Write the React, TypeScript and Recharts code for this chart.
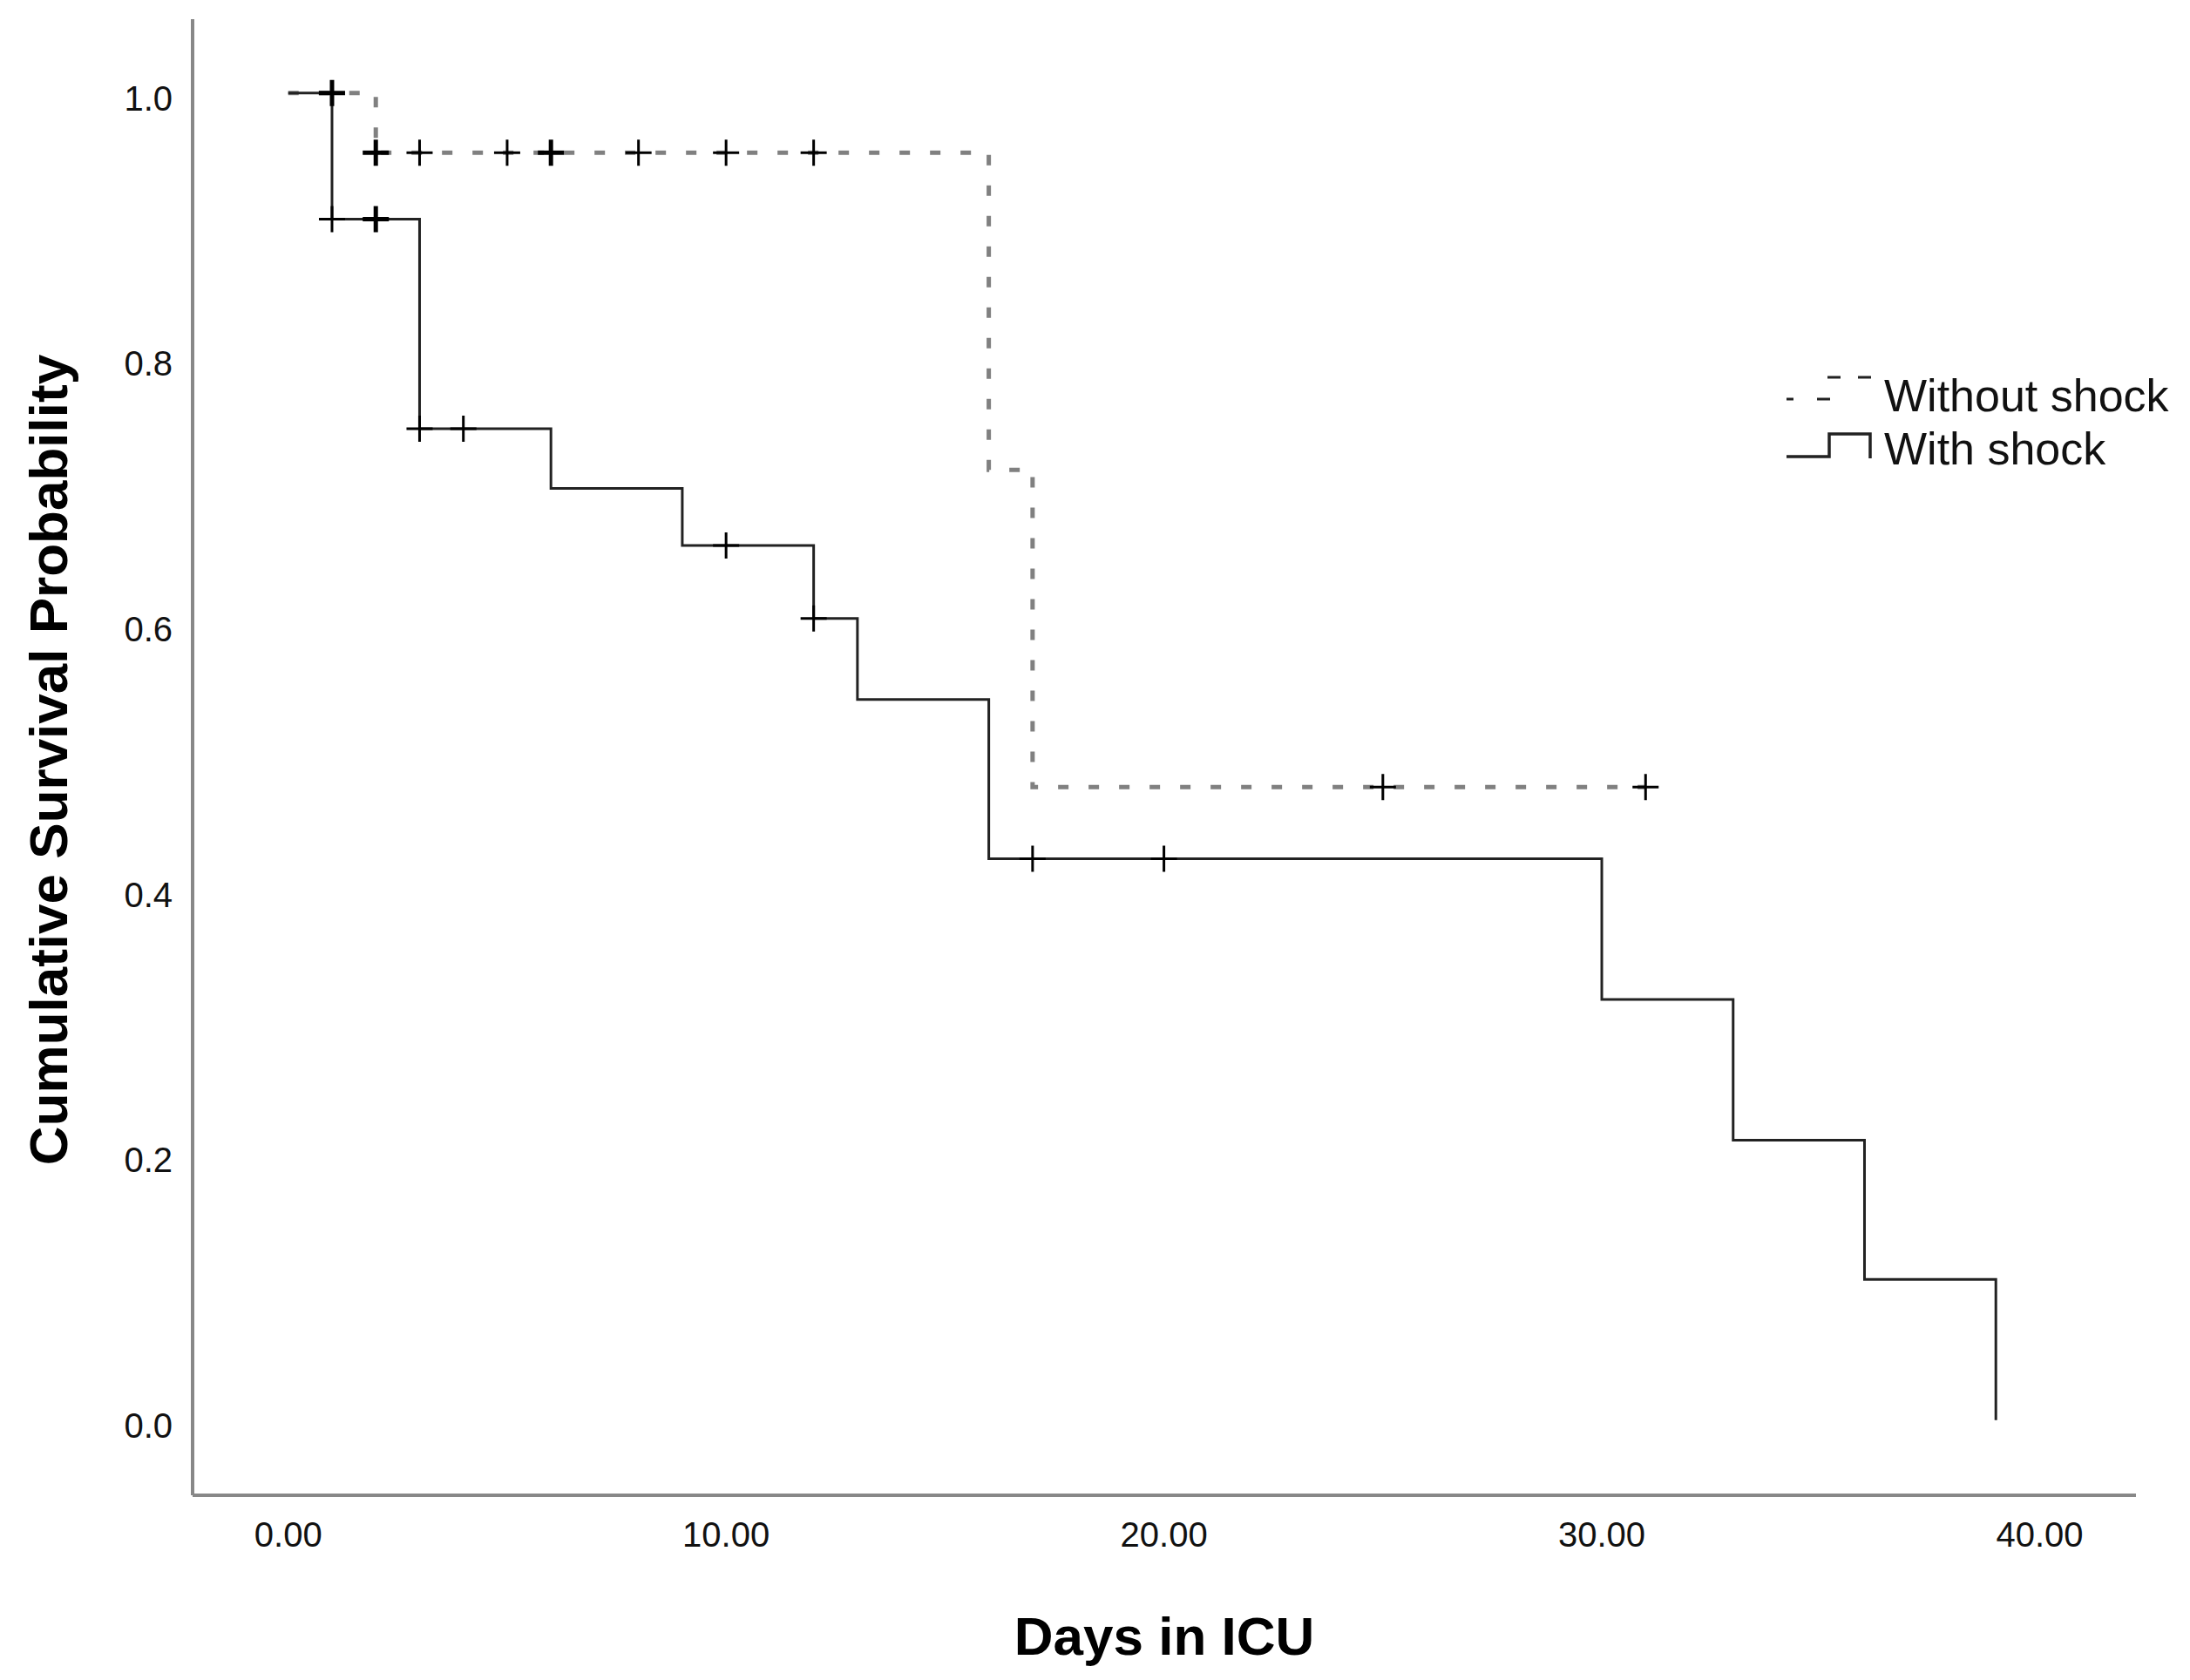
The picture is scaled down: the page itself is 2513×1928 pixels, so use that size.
import React from 'react';
import { ComposedChart, Line, XAxis, YAxis, Legend, Label } from 'recharts';

// Kaplan-Meier step data (time in days, cumulative survival), censored = number censored at that point
const withoutShockTimes = [0, 1, 2, 3, 5, 6, 8, 10, 12, 16, 17, 25, 31];
const withoutShockSurvival = [1.0, 1.0, 0.955, 0.955, 0.955, 0.955, 0.955, 0.955, 0.955, 0.716, 0.477, 0.477, 0.477];
const withoutShockCensored = [0, 2, 2, 1, 1, 2, 1, 1, 1, 0, 0, 1, 1];

const withShockTimes = [0, 1, 2, 3, 4, 6, 9, 10, 12, 13, 16, 17, 20, 30, 33, 36, 39];
const withShockSurvival = [1.0, 0.905, 0.905, 0.747, 0.747, 0.702, 0.659, 0.659, 0.604, 0.543, 0.423, 0.423, 0.423, 0.317, 0.211, 0.106, 0.0];
const withShockCensored = [0, 1, 2, 1, 1, 0, 0, 1, 1, 0, 0, 1, 1, 0, 0, 0, 0];

const xTicks = [0, 10, 20, 30, 40];
const xTickLabels = ['0.00', '10.00', '20.00', '30.00', '40.00'];
const yTicks = [0, 0.2, 0.4, 0.6, 0.8, 1.0];
const yTickLabels = ['0.0', '0.2', '0.4', '0.6', '0.8', '1.0'];

const seriesNames = ['Without shock', 'With shock'];

const build = (times: number[], surv: number[], cens: number[]) =>
  times.map((t, i) => ({ t, s: surv[i], c: cens[i] }));

const withoutData = build(withoutShockTimes, withoutShockSurvival, withoutShockCensored);
const withData = build(withShockTimes, withShockSurvival, withShockCensored);

const FONT = '"Liberation Sans", Arial, Helvetica, sans-serif';

const CensorDot = (props: any) => {
  const { cx, cy, payload, index } = props;
  if (!payload || !payload.c || cx == null || cy == null) return <g key={`n-${index}`} />;
  const h = 15;
  return (
    <path
      key={`c-${index}`}
      d={`M${cx - h},${cy}H${cx + h}M${cx},${cy - h}V${cy + h}`}
      stroke="#000"
      strokeWidth={payload.c > 1 ? 5 : 3}
      strokeDasharray="none"
      fill="none"
    />
  );
};

const YTick = (props: any) => {
  const { x, y, payload } = props;
  const i = yTicks.indexOf(payload.value);
  return (
    <text x={x} y={y + 20} textAnchor="end" fontFamily={FONT} fontSize={40} fill="#111">
      {i >= 0 ? yTickLabels[i] : payload.value}
    </text>
  );
};

const XTick = (props: any) => {
  const { x, y, payload } = props;
  const i = xTicks.indexOf(payload.value);
  return (
    <text x={x} y={y + 59} textAnchor="middle" fontFamily={FONT} fontSize={40} fill="#111">
      {i >= 0 ? xTickLabels[i] : payload.value}
    </text>
  );
};

const LegendContent = () => (
  <svg width={483} height={160} style={{ display: 'block', overflow: 'visible' }}>
    <path d="M20 58H28M55 58H70M67 33H82M102 33H117" stroke="#222" strokeWidth={3} fill="none" />
    <text x={132} y={72} fontFamily={FONT} fontSize={52} fill="#111">{seriesNames[0]}</text>
    <path d="M20 124H69V98H116V126" stroke="#222" strokeWidth={3.5} fill="none" />
    <text x={132} y={133} fontFamily={FONT} fontSize={52} fill="#111">{seriesNames[1]}</text>
  </svg>
);

export default function App() {
  return (
    <div style={{ position: 'absolute', left: 0, top: 0, width: 2513, height: 1928, background: '#fff' }}>
      <ComposedChart
        width={2513}
        height={1928}
        margin={{ top: 22, right: 62, bottom: 112, left: 121 }}
      >
        <XAxis
          type="number"
          dataKey="t"
          domain={[-2.184, 42.2]}
          allowDataOverflow
          ticks={xTicks}
          tickLine={false}
          tickSize={0}
          tickMargin={0}
          height={100}
          axisLine={{ stroke: '#888', strokeWidth: 4 }}
          tick={<XTick />}
          interval={0}
        >
          <Label
            content={() => (
              <text x={1336} y={1899} textAnchor="middle" fontFamily={FONT} fontWeight="bold" fontSize={62} fill="#000">
                Days in ICU
              </text>
            )}
          />
        </XAxis>
        <YAxis
          type="number"
          dataKey="s"
          domain={[-0.0566, 1.0556]}
          allowDataOverflow
          ticks={yTicks}
          tickLine={false}
          tickSize={0}
          tickMargin={23}
          width={100}
          axisLine={{ stroke: '#888', strokeWidth: 4 }}
          tick={<YTick />}
          interval={0}
        >
          <Label
            content={() => (
              <text
                x={77}
                y={872}
                transform="rotate(-90, 77, 872)"
                textAnchor="middle"
                fontFamily={FONT}
                fontWeight="bold"
                fontSize={62}
                fill="#000"
              >
                Cumulative Survival Probability
              </text>
            )}
          />
        </YAxis>
        <Legend
          layout="vertical"
          align="center"
          verticalAlign="middle"
          content={<LegendContent />}
          wrapperStyle={{ position: 'absolute', left: 2030, top: 400, width: 483, height: 160 }}
        />
        <Line
          data={withoutData}
          dataKey="s"
          name={seriesNames[0]}
          type="stepAfter"
          stroke="#808080"
          strokeWidth={5}
          strokeDasharray="12 23"
          dot={CensorDot}
          activeDot={false}
          isAnimationActive={false}
        />
        <Line
          data={withData}
          dataKey="s"
          name={seriesNames[1]}
          type="stepAfter"
          stroke="#222"
          strokeWidth={3}
          dot={CensorDot}
          activeDot={false}
          isAnimationActive={false}
        />
      </ComposedChart>
    </div>
  );
}
